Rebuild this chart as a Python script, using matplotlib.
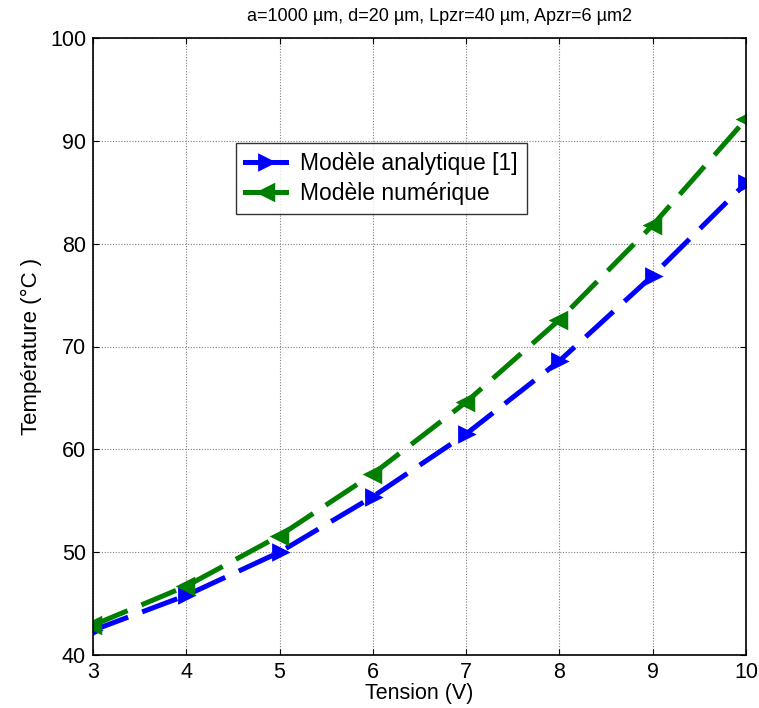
import matplotlib
matplotlib.use("Agg")
import matplotlib.pyplot as plt

tension = [3, 4, 5, 6, 7, 8, 9, 10]
temp_analytique = [42.4, 45.8, 50.0, 55.4, 61.5, 68.6, 76.9, 85.9]
temp_numerique = [42.9, 46.7, 51.6, 57.6, 64.6, 72.6, 81.8, 92.1]

xticks = [3, 4, 5, 6, 7, 8, 9, 10]
yticks = [40, 50, 60, 70, 80, 90, 100]

plt.rcParams['font.family'] = ['Liberation Sans', 'DejaVu Sans']

fig = plt.figure(figsize=(7.59, 7.08), dpi=100)
ax = fig.add_axes([93 / 759, 1 - 655 / 708, 653 / 759, 617 / 708])

dash = (7.5, 3)
ax.plot(tension, temp_analytique, color='#0000ff', lw=3.6, ls=(0, dash),
        marker='>', ms=10, mfc='#0000ff', mec='#0000ff', mew=2,
        label='Modèle analytique [1]')
ax.plot(tension, temp_numerique, color='#007f00', lw=3.6, ls=(0, dash),
        marker='<', ms=10, mfc='#007f00', mec='#007f00', mew=2.5,
        label='Modèle numérique')

ax.set_xlim(3, 10)
ax.set_ylim(40, 100)
ax.set_xticks(xticks)
ax.set_yticks(yticks)
ax.tick_params(direction='in', labelsize=15.5, length=4, top=True, right=True, pad=5)
ax.grid(True, color='#808080', ls=(0, (1, 1.5)), lw=0.8)
for s in ax.spines.values():
    s.set_linewidth(1.2)

ax.set_xlabel('Tension (V)', fontsize=15.5, labelpad=0)
ax.set_ylabel('Température (°C )', fontsize=16, labelpad=6)
ax.set_title('a=1000 µm, d=20 µm, Lpzr=40 µm, Apzr=6 µm2', fontsize=13, pad=12, x=0.531)

leg = ax.legend(loc='upper left', bbox_to_anchor=(0.219, 0.830), fontsize=16.5,
                frameon=True, fancybox=False, edgecolor='black',
                handlelength=1.8, handletextpad=0.6, borderpad=0.4, labelspacing=0.3,
                borderaxespad=0)
leg.get_frame().set_linewidth(1.0)
for h in leg.get_lines():
    h.set_linestyle('-')

fig.savefig('out.png', dpi=100)
